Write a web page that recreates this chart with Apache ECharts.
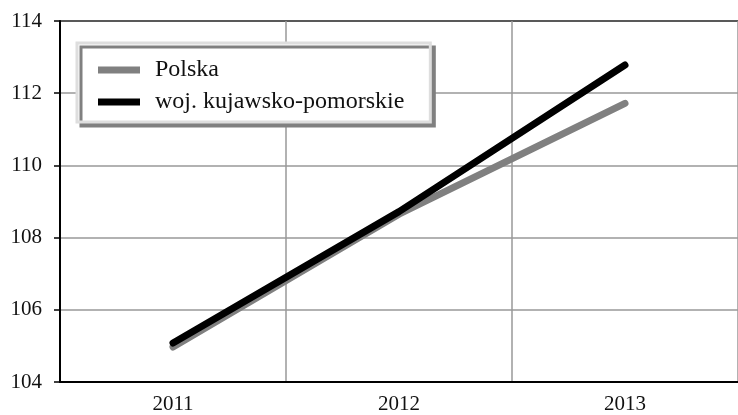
<!DOCTYPE html>
<html>
<head>
<meta charset="utf-8">
<script src="https://cdn.jsdelivr.net/npm/echarts@6/dist/echarts.min.js"></script>
<style>html,body{margin:0;padding:0;background:#fff}#c{width:738px;height:415px}</style>
</head>
<body>
<div id="c"></div>
<script>
const categories = ['2011', '2012', '2013'];
const polska = [104.97, 108.65, 111.72];
const kujawsko = [105.08, 108.72, 112.78];
const seriesNames = ['Polska', 'woj. kujawsko-pomorskie'];

const FONT = '"Liberation Serif", "Times New Roman", serif';
const chart = echarts.init(document.getElementById('c'), null, {renderer: 'canvas'});
chart.setOption({
  animation: false,
  backgroundColor: '#fff',
  grid: {left: 60, top: 21, width: 682.5, height: 361, containLabel: false},
  legend: {
    show: true,
    orient: 'vertical',
    left: 77, top: 43,
    data: seriesNames,
    icon: 'rect',
    itemWidth: 42, itemHeight: 7,
    itemGap: 8,
    padding: [15, 26, 8, 21],
    backgroundColor: '#fff',
    borderColor: '#dedede',
    borderWidth: 3,
    borderRadius: 0,
    shadowColor: '#808080',
    shadowBlur: 0,
    shadowOffsetX: 4,
    shadowOffsetY: 4,
    textStyle: {fontFamily: FONT, fontSize: 24, color: '#111', padding: [0, 0, 0, 10], lineHeight: 24},
    selectedMode: false
  },
  xAxis: {
    type: 'category',
    data: categories,
    boundaryGap: true,
    axisLine: {lineStyle: {color: '#000', width: 2}},
    axisTick: {show: false},
    axisLabel: {fontFamily: FONT, fontSize: 21, color: '#111', margin: 12},
    splitLine: {show: true, lineStyle: {color: '#999', width: 1.5}}
  },
  yAxis: {
    type: 'value',
    min: 104, max: 114, interval: 2,
    axisLine: {show: true, lineStyle: {color: '#000', width: 2}},
    axisTick: {show: true, length: 6, lineStyle: {color: '#000', width: 1.5}},
    axisLabel: {fontFamily: FONT, fontSize: 21, color: '#111', margin: 18},
    splitLine: {show: true, lineStyle: {color: ['#999', '#999', '#999', '#999', '#999', '#222'], width: 1.5}}
  },
  series: [
    {
      name: seriesNames[0], type: 'line', data: polska,
      showSymbol: false, symbol: 'none',
      itemStyle: {color: '#808080'},
      lineStyle: {color: '#808080', width: 7, cap: 'round'},
      z: 2
    },
    {
      name: seriesNames[1], type: 'line', data: kujawsko,
      showSymbol: false, symbol: 'none',
      itemStyle: {color: '#000'},
      lineStyle: {color: '#000', width: 7, cap: 'round'},
      z: 3
    }
  ]
});
</script>
</body>
</html>
